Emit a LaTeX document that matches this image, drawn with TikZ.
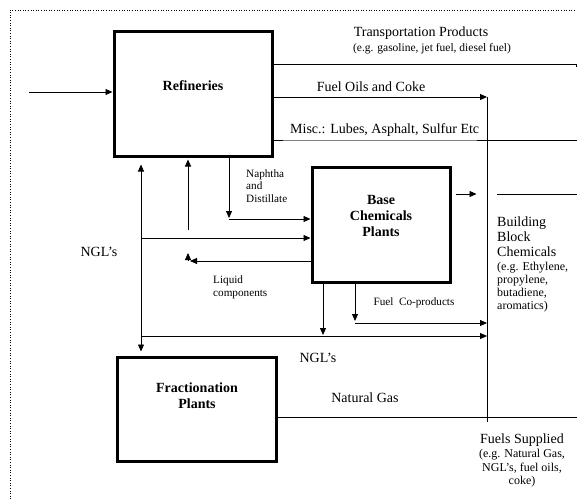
\documentclass[tikz,border=0pt]{standalone}
\usepackage{fontspec}
\setmainfont{Liberation Serif}
\usetikzlibrary{arrows.meta,positioning,calc}

\begin{document}
\begin{tikzpicture}[
    x=1pt, y=-1pt,
    >={Triangle[length=7pt,width=6pt]},
    plant/.style={draw, line width=3pt, inner sep=0pt},
    plantname/.style={font=\fontsize{14}{16}\selectfont\bfseries, align=center, inner sep=0pt},
    lbl/.style={font=\fontsize{14}{15}\selectfont, inner sep=0pt},
    note/.style={font=\fontsize{11.5}{13}\selectfont, inner sep=0pt},
    flow/.style={line width=0.9pt},
]
  \useasboundingbox (0,0) rectangle (577,499);
  \draw[dotted, line width=0.6pt] (10,499) -- (10,10) -- (577,10);

  % plants
  \node[plant, minimum width=158pt, minimum height=125pt] (ref) at (193,93.5) {};
  \node[plantname] at (193,86) {Refineries};
  \node[plant, minimum width=138pt, minimum height=115pt] (bcp) at (381,224.5) {};
  \node[plantname] at (381,216) {Base\\Chemicals\\Plants};
  \node[plant, minimum width=159pt, minimum height=104pt] (frac) at (196.5,409) {};
  \node[plantname] at (197,396) {Fractionation\\Plants};

  % free ends of the flows
  \coordinate (in) at (29,92);
  \coordinate (tp) at (577,64);
  \coordinate (fs) at (487,97);
  \coordinate (fsb) at (487,422);
  \coordinate (misc) at (577,140);
  \coordinate (nd) at (229,219);
  \coordinate (ru) at (188,230);
  \coordinate (ngl) at (141,238);
  \coordinate (lq) at (190,261);
  \coordinate (nglb) at (141,336);
  \coordinate (d1) at (323,335);
  \coordinate (fc) at (355,323);
  \coordinate (bb) at (497,194);
  \coordinate (ng) at (577,417);

  % refinery outputs
  \draw[flow, ->] (in) -- (in -| ref.west);
  \draw[flow] (tp -| ref.east) -- (tp);
  \draw[flow] ([xshift=-1pt]tp) -- ++(0,3);
  \draw[flow, ->] (fs -| ref.east) -- (fs);
  \draw[flow] (fs) -- (fsb);
  \draw[flow] (misc -| ref.east) -- ++(9,0);
  \draw[black!50, line width=0.5pt] ($(misc -| ref.east)+(9,0)$) -- (477,140);
  \draw[flow] (477,140) -- (misc);

  % between refineries and base chemicals
  \draw[flow, ->] (nd |- ref.south) -- ([yshift=1pt]nd);
  \draw[flow, ->] (nd) -- (nd -| bcp.west);
  \draw[flow, ->] (ru) -- ([yshift=-2pt]ru |- ref.south);
  \draw[flow, <->] ([yshift=-7pt]ngl |- ref.south) -- ([yshift=4pt]ngl |- frac.north);
  \draw[flow, ->] (ngl) -- (ngl -| bcp.west);
  \draw[flow, ->] (lq -| bcp.west) -- (lq);
  \draw[flow, ->] ([xshift=-2pt]lq) -- ++(0,-8);

  % base chemicals outputs
  \draw[flow, ->] ([xshift=4pt]bb -| bcp.east) -- ++(21,0);
  \draw[flow] (bb) -- (bb -| misc);
  \draw[flow, ->] (d1 |- bcp.south) -- (d1);
  \draw[flow, ->] (fc |- bcp.south) -- ([yshift=2pt]fc);
  \draw[flow, ->] (fc) -- (fc -| fs);
  \draw[flow, ->] (nglb) -- (nglb -| fs);

  % fractionation output
  \draw[flow] (ng -| frac.east) -- (ng);

  % labels
  \node[lbl] at (421,33) {Transportation Products};
  \node[note] at (432,49) {(e.g. gasoline, jet fuel, diesel fuel)};
  \node[lbl] at (371,87) {Fuel Oils and Coke};
  \node[lbl, anchor=west] at (290,130) {Misc.: Lubes, Asphalt, Sulfur Etc};
  \node[note, anchor=west, align=left, font=\fontsize{11.2}{12.5}\selectfont] at (246,186) {Naphtha\\and\\Distillate};
  \node[lbl] at (99,252) {NGL's};
  \node[note, anchor=west, align=left, font=\fontsize{11.2}{13}\selectfont] at (213,287.5) {Liquid\\components};
  \node[note, font=\fontsize{11.2}{13}\selectfont] at (414,303) {Fuel\ \ Co-products};
  \node[lbl] at (318,358) {NGL's};
  \node[lbl] at (365,398) {Natural Gas};
  \node[lbl, anchor=west, align=left] at (497,237) {Building\\Block\\Chemicals};
  \node[note, anchor=west, align=left, font=\fontsize{12}{13}\selectfont] at (497,287.5) {(e.g. Ethylene,\\propylene,\\butadiene,\\aromatics)};
  \node[lbl] at (522,440) {Fuels Supplied};
  \node[note, align=center, font=\fontsize{12}{13.5}\selectfont] at (522,468.5) {(e.g. Natural Gas,\\NGL's, fuel oils,\\coke)};
\end{tikzpicture}
\end{document}
